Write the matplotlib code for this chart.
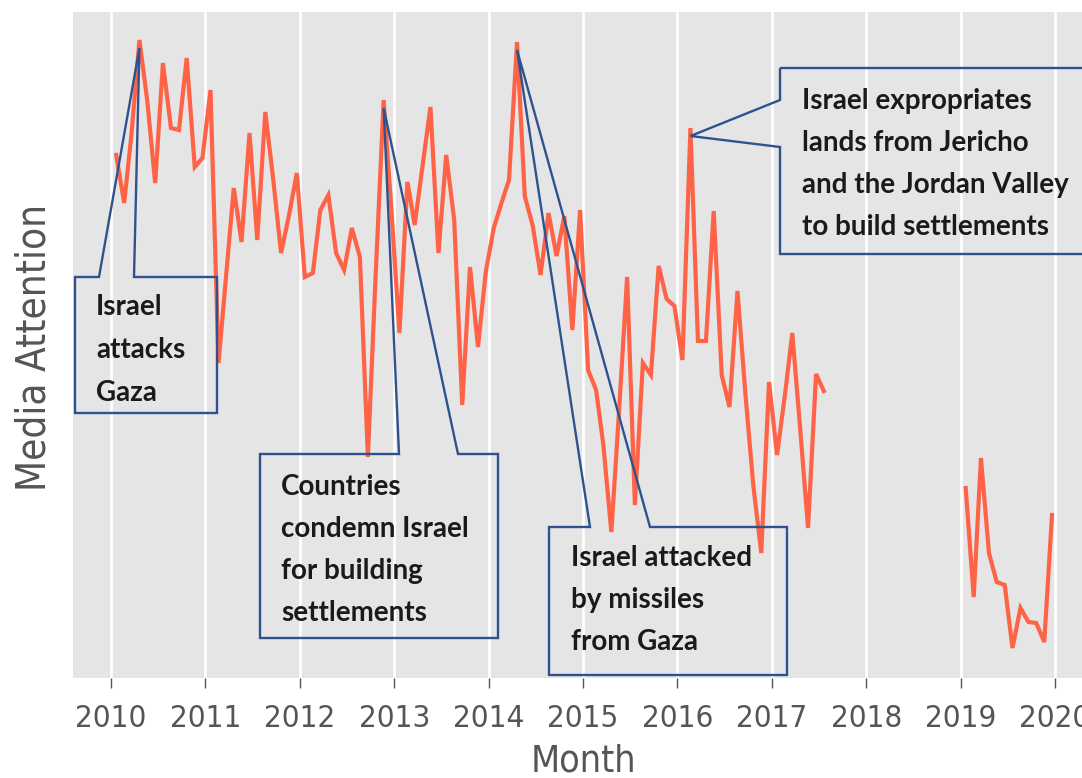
import matplotlib
matplotlib.use("Agg")
import matplotlib.pyplot as plt
import matplotlib.dates as mdates
from matplotlib.patches import Polygon
from matplotlib.transforms import IdentityTransform
import numpy as np
import pandas as pd

W, H = 1082, 778
nan = np.nan

# monthly media attention (arbitrary units), Jan..Dec
att_2010 = [523, 475, 543, 638, 578, 495, 615, 550, 548, 620, 511, 520]
att_2011 = [588, 315, 398, 490, 436, 545, 438, 566, 498, 425, 463, 505]
att_2012 = [401, 405, 468, 483, 425, 408, 450, 421, 221, 403, 578, 468]
att_2013 = [345, 496, 453, 513, 571, 425, 523, 458, 273, 411, 331, 406]
att_2014 = [450, 476, 498, 636, 482, 452, 403, 465, 422, 462, 348, 468]
att_2015 = [308, 288, 233, 146, 268, 401, 173, 315, 303, 412, 379, 372]
att_2016 = [318, 550, 337, 337, 467, 303, 271, 387, 283, 193, 125, 296]
att_2017 = [223, 284, 345, 248, 150, 304, 287, nan, nan, nan, nan, nan]
att_2018 = [nan] * 12
att_2019 = [190, 81, 220, 125, 96, 93, 30, 70, 56, 55, 36, 163]

tick_years = list(range(2010, 2021))

ann_months = ["2010-04", "2012-11", "2014-04", "2016-02"]
ann_texts = [
    ["Israel", "attacks", "Gaza"],
    ["Countries", "condemn Israel", "for building", "settlements"],
    ["Israel attacked", "by missiles", "from Gaza"],
    ["Israel expropriates", "lands from Jericho", "and the Jordan Valley", "to build settlements"],
]

values = np.array(att_2010 + att_2011 + att_2012 + att_2013 + att_2014 +
                  att_2015 + att_2016 + att_2017 + att_2018 + att_2019, dtype=float)
months = pd.date_range("2010-01-01", periods=len(values), freq="MS")
dates = months + pd.Timedelta(days=20)

fig = plt.figure(figsize=(W / 100, H / 100), dpi=100)
fig.patch.set_facecolor("white")
ax = fig.add_axes([73 / W, 1 - 678 / H, (W - 73) / W, (678 - 12) / H])
ax.set_facecolor("#E5E5E5")
for s in ax.spines.values():
    s.set_visible(False)

ax.plot(dates, values, color="#FF6347", lw=3.0, zorder=3, solid_joinstyle="miter")

ax.set_xlim(pd.Timestamp("2009-08-07"), pd.Timestamp("2020-04-15"))
ax.set_ylim(0, 666)
ax.set_yticks([])
ax.set_xticks([pd.Timestamp(f"{y}-01-01") for y in tick_years])
ax.set_xticklabels([str(y) for y in tick_years])
ax.grid(axis="x", color="white", lw=1.9)
ax.set_axisbelow(True)
ax.tick_params(axis="x", colors="#555555", length=7, width=1, pad=12,
               labelsize=22.5, labelcolor="#555555")
for lab in ax.get_xticklabels():
    lab.set_fontstretch("condensed")

ax.set_xlabel("Month", fontsize=27, color="#555555", fontstretch="condensed")
ax.xaxis.set_label_coords((583 - 73) / (W - 73), (678 - 743) / 666)
ax.set_ylabel("Media Attention", fontsize=29, color="#555555", fontstretch="condensed")
ax.yaxis.set_label_coords((55 - 73) / (W - 73), (678 - 347) / 666)

fig.canvas.draw()

edge = "#2F528F"

def tip_of(month):
    i = list(months.strftime("%Y-%m")).index(month)
    x, y = ax.transData.transform((mdates.date2num(dates[i]), values[i]))
    return (x, y - 8)

def d(x, y):
    return (x, H - y)

tips = [tip_of(m) for m in ann_months]

polys = [
    [d(75, 277), d(99, 277), tips[0], d(134, 277), d(217, 277), d(217, 413), d(75, 413)],
    [d(260, 454), d(399, 454), tips[1], d(458, 454), d(498, 454), d(498, 638), d(260, 638)],
    [d(549, 527), d(590, 527), tips[2], d(650, 527), d(787, 527), d(787, 675), d(549, 675)],
    [d(780, 68), d(1100, 68), d(1100, 254), d(780, 254), d(780, 147), tips[3], d(780, 100)],
]
for p in polys:
    poly = Polygon(p, closed=True, fill=False, edgecolor=edge, lw=1.7,
                   transform=IdentityTransform(), zorder=5, joinstyle="miter")
    fig.add_artist(poly)

text_pos = [(96, 315, 43), (281, 495, 42), (571, 566, 42), (802, 109, 42)]
for (x0, y0, dy), lines in zip(text_pos, ann_texts):
    for k, line in enumerate(lines):
        fig.text(x0 / W, 1 - (y0 + k * dy) / H, line, fontsize=20, fontweight="bold",
                 family="Lato", color="#1A1A1A", ha="left", va="baseline", zorder=6)

fig.savefig("out.png", dpi=100)
